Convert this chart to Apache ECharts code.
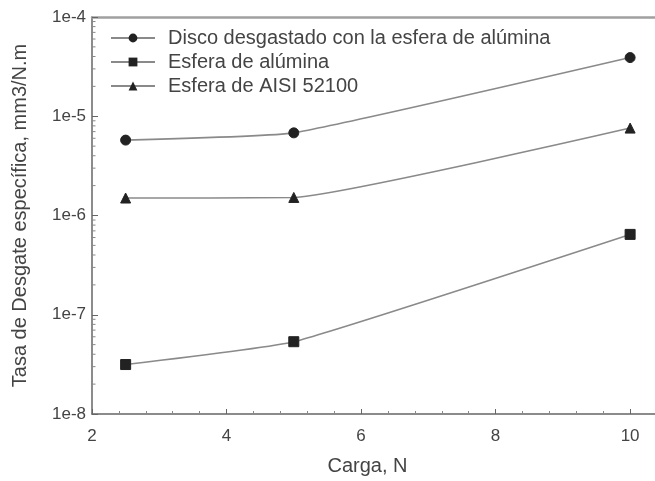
<!DOCTYPE html>
<html>
<head>
<meta charset="utf-8">
<script src="https://cdn.jsdelivr.net/npm/echarts@6/dist/echarts.min.js"></script>
<style>html,body{margin:0;padding:0;background:#fff}#c{width:655px;height:481px}</style>
</head>
<body>
<div id="c"></div>
<script>
var cargas = [2.5, 5, 10];
var disco = [5.75e-6, 6.8e-6, 3.9e-5];
var esferaAlumina = [3.15e-8, 5.35e-8, 6.45e-7];
var esferaAISI = [1.5e-6, 1.52e-6, 7.6e-6];
var seriesNames = ['Disco desgastado con la esfera de alúmina', 'Esfera de alúmina', 'Esfera de AISI 52100'];
var xTicks = [2, 4, 6, 8, 10];
var yMinorTicks = [];
for (var e = -8; e < -4; e++) { for (var m = 2; m <= 9; m++) { yMinorTicks.push(m * Math.pow(10, e)); } }

function pairs(xs, ys) { return xs.map(function (x, i) { return [x, ys[i]]; }); }

var font = 'Liberation Sans, Arial, sans-serif';
var lineColor = '#8a8a8a';
var markColor = '#222';
var axisColor = '#666';
var textColor = '#444';

var chart = echarts.init(document.getElementById('c'));
function lineSeries(name, data, symbol, size) {
  return {
    name: name, type: 'line', data: pairs(cargas, data), symbol: symbol, symbolSize: size,
    smooth: 0.12,
    lineStyle: { color: lineColor, width: 1.6 },
    itemStyle: { color: markColor, borderColor: markColor },
    emphasis: { disabled: true }
  };
}
chart.setOption({
  animation: false,
  textStyle: { fontFamily: font },
  grid: { left: 92, right: 0, top: 17, bottom: 65 },
  legend: {
    left: 105, top: 23, orient: 'vertical',
    itemWidth: 44, itemHeight: 11, itemGap: 4,
    textStyle: { fontSize: 20, color: textColor, fontFamily: font, padding: [0, 0, 0, 8] },
    data: seriesNames
  },
  xAxis: [{
    type: 'value', min: 2, max: 10.37, interval: 2,
    name: 'Carga, N', nameLocation: 'middle', nameGap: 42,
    nameTextStyle: { fontSize: 20, color: textColor, padding: [0, 12, 0, 0] },
    axisLine: { lineStyle: { color: axisColor, width: 1.5 } },
    axisTick: { inside: true, length: 5, lineStyle: { color: axisColor } },
    minorTick: { show: true, splitNumber: 5, length: 3, lineStyle: { color: '#888' } },
    axisLabel: { fontSize: 17, color: textColor, margin: 14, showMaxLabel: false,
      formatter: function (v) { return xTicks.indexOf(v) >= 0 ? String(v) : ''; } },
    splitLine: { show: false }
  }, {
    type: 'value', position: 'top', min: 2, max: 10.37,
    axisLine: { show: true, lineStyle: { color: '#a0a0a0', width: 2.5 } },
    axisTick: { show: false }, axisLabel: { show: false }, splitLine: { show: false }
  }],
  yAxis: {
    type: 'log', logBase: 10, min: 1e-8, max: 1e-4,
    name: 'Tasa de Desgate específica, mm3/N.m', nameLocation: 'middle', nameGap: 62,
    nameTextStyle: { fontSize: 20, color: textColor },
    axisLine: { show: true, lineStyle: { color: axisColor, width: 1.5 } },
    axisTick: { inside: true, length: 6, lineStyle: { color: axisColor } },
    axisLabel: { fontSize: 17, color: textColor, margin: 6,
      formatter: function (v) { return '1e' + Math.round(Math.log10(v)); } },
    splitLine: { show: false }
  },
  series: [
    lineSeries(seriesNames[0], disco, 'circle', 10),
    lineSeries(seriesNames[1], esferaAlumina, 'rect', 10),
    lineSeries(seriesNames[2], esferaAISI, 'triangle', 10),
    {
      type: 'custom', silent: true, legendHoverLink: false,
      data: yMinorTicks.map(function (v) { return [2, v]; }),
      renderItem: function (params, api) {
        var p = api.coord([api.value(0), api.value(1)]);
        return { type: 'line', shape: { x1: p[0], y1: p[1], x2: p[0] + 3.5, y2: p[1] },
          style: { stroke: '#888', lineWidth: 1 } };
      }
    }
  ]
});
</script>
</body>
</html>
